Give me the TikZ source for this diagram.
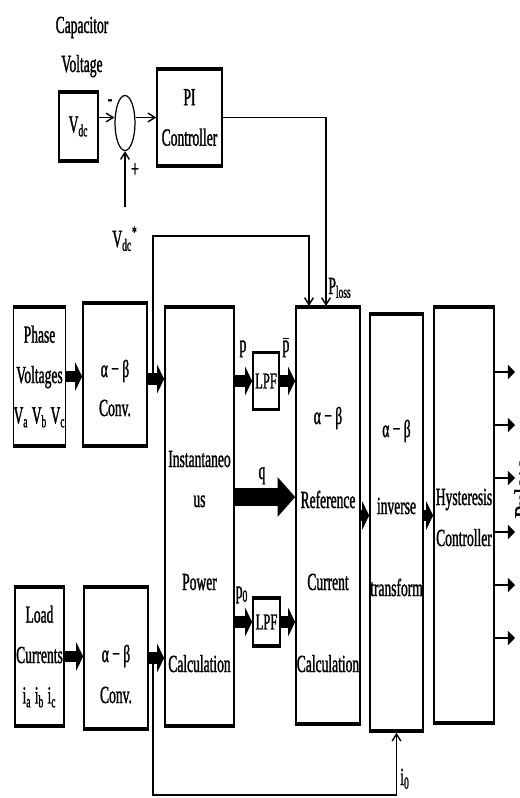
\documentclass[tikz,border=0pt]{standalone}
\usepackage{fontspec}
\setmainfont[FakeStretch=0.55,FakeBold=1.2]{Liberation Serif}
\newfontfamily\plainfont[FakeBold=1.2]{Liberation Serif}
\newcommand\tfont{\fontsize{14}{23}\selectfont}
\usetikzlibrary{arrows.meta,shapes.geometric}
\begin{document}
\begin{tikzpicture}[x=0.02cm, y=-0.02cm,
	blk/.style={draw, line width=0.9pt, inner sep=0pt, font=\tfont, align=center,
		path picture={\draw[line width=3pt] (path picture bounding box.north west) -- (path picture bounding box.north east) (path picture bounding box.south west) -- (path picture bounding box.south east);}},
	lbl/.style={font=\tfont, inner sep=0pt, anchor=base},
	sig/.style={line width=0.8pt, -{Straight Barb[length=4pt,width=5pt]}},
	fat/.style={line width=6.5pt, -{Triangle[length=4pt,width=16pt]}},
	qfat/.style={line width=10.5pt, -{Triangle[length=10pt,width=22pt]}},
	outa/.style={line width=1.4pt, -{Triangle[length=4pt,width=8pt]}}]
	\useasboundingbox (0,0) rectangle (520,798);
	\node[lbl] at (82,33) (cap1) {Capacitor};
	\node[lbl] at (82,72) (cap2) {Voltage};
	\node[blk, minimum width=0.78cm, minimum height=1.42cm] at (78.5,126.5) (vdc) {V\textsubscript{dc}};
	\node[draw, ellipse, line width=0.7pt, minimum width=0.4cm, minimum height=1.1cm, inner sep=0pt] at (125,123) (sum) {};
	\node[blk, minimum width=1.3cm, minimum height=1.98cm] at (189.5,117.5) (pi) {PI\\Controller};
	\node[lbl] at (110,106) (minus) {-};
	\node[lbl] at (135,177) (plus) {+};
	\node[lbl] at (125,247) (vref) {V\textsubscript{dc}\textsuperscript{*}};
	\coordinate (vs) at (125,207);
	\node[blk, minimum width=0.98cm, minimum height=2.82cm] at (39.5,376.5) (phase) {Phase\\Voltages\\V\textsubscript{a} V\textsubscript{b} V\textsubscript{c}};
	\node[blk, minimum width=1.28cm, minimum height=2.9cm] at (115,374.5) (conv1) {};
	\node[lbl] at (115,377) (c1a) {α − β};
	\node[lbl] at (115,416) (c1b) {Conv.};
	\node[blk, minimum width=0.98cm, minimum height=2.82cm] at (39.5,656.5) (load) {Load\\Currents\\i\textsubscript{a} i\textsubscript{b} i\textsubscript{c}};
	\node[blk, minimum width=1.28cm, minimum height=2.88cm] at (116,658) (conv2) {};
	\node[lbl] at (116,662) (c2a) {α − β};
	\node[lbl] at (116,703) (c2b) {Conv.};
	\node[blk, minimum width=1.38cm, minimum height=8.42cm] at (199.5,516.5) (ipc) {};
	\node[lbl] at (199.5,467) (ipc1) {Instantaneo};
	\node[lbl] at (199.5,507) (ipc2) {us};
	\node[lbl] at (199.5,590) (ipc3) {Power};
	\node[lbl] at (199.5,672) (ipc4) {Calculation};
	\node[blk, font=\fontsize{13}{15}\selectfont, minimum width=0.52cm, minimum height=1.18cm] at (266,381) (lpf1) {LPF};
	\node[blk, font=\fontsize{13}{15}\selectfont, minimum width=0.54cm, minimum height=1.0cm] at (266.5,622) (lpf2) {LPF};
	\node[lbl] at (243,352) (p) {p};
	\node[lbl] at (286,352) (pbar) {$\overline{\mbox{p}}$};
	\node[lbl] at (262,479) (q) {q};
	\node[lbl] at (242,598) (p0) {p\textsubscript{0}};
	\node[blk, minimum width=1.28cm, minimum height=8.38cm] at (328,515.5) (ref) {};
	\node[lbl] at (328,424) (r1) {α − β};
	\node[lbl] at (328,508) (r2) {Reference};
	\node[lbl] at (328,590) (r3) {Current};
	\node[lbl] at (328,672) (r4) {Calculation};
	\node[lbl] at (340,294) (ploss) {P\textsubscript{loss}};
	\node[blk, minimum width=1.06cm, minimum height=8.38cm] at (396.5,522.5) (inv) {};
	\node[lbl] at (396.5,437) (i1) {α − β};
	\node[lbl] at (396.5,514) (i2) {inverse};
	\node[lbl] at (396.5,596) (i3) {transform};
	\node[blk, minimum width=1.2cm, minimum height=8.36cm] at (464,515) (hys) {};
	\node[lbl] at (464,505) (h1) {Hysteresis};
	\node[lbl] at (464,546) (h2) {Controller};
	\node[lbl] at (405,785) (i0) {i\textsubscript{0}};
	\node[font=\plainfont\fontsize{13}{15}\selectfont, inner sep=0pt, rotate=90, anchor=north] at (514,489) (pulses) {Pulses};
	\draw[sig] (vdc.east |- pi.west) -- (sum.west |- pi.west);
	\draw[sig] (sum.east |- pi.west) -- (pi.west);
	\draw[sig] (vs) -- (sum.south);
	\coordinate (rin1) at (309,306);
	\coordinate (rin2) at (326,306);
	\draw[sig] (pi.east) -| (rin2);
	\coordinate (j1) at (153,379);
	\coordinate (up1) at (153,236);
	\coordinate (j2) at (153,658);
	\coordinate (dn2) at (153,795);
	\draw[fat] (phase.east) -- (conv1.west |- phase.east);
	\draw[fat] (conv1.east |- j1) -- (ipc.west |- j1);
	\draw[fat] (load.east) -- (conv2.west |- load.east);
	\draw[fat] (conv2.east |- j2) -- (ipc.west |- j2);
	\draw[sig] (j1) -- (up1) -| (rin1);
	\draw[sig] (j2) -- (dn2) -| (inv.south);
	\draw[fat] (ipc.east |- lpf1.west) -- (lpf1.west);
	\draw[fat] (lpf1.east) -- (ref.west |- lpf1.east);
	\coordinate (qline) at (265,497);
	\draw[qfat] (ipc.east |- qline) -- (ref.west |- qline);
	\draw[fat] (ipc.east |- lpf2.west) -- (lpf2.west);
	\draw[fat] (lpf2.east) -- (ref.west |- lpf2.east);
	\draw[fat] (ref.east) -- (inv.west |- ref.east);
	\draw[fat] (inv.east |- ref.east) -- (hys.west |- ref.east);
	\foreach \y [count=\i] in {372,425,478,532,585,638} {
		\coordinate (o\i) at (515,\y);
		\draw[outa] (hys.east |- o\i) -- (o\i);
	}
\end{tikzpicture}
\end{document}
